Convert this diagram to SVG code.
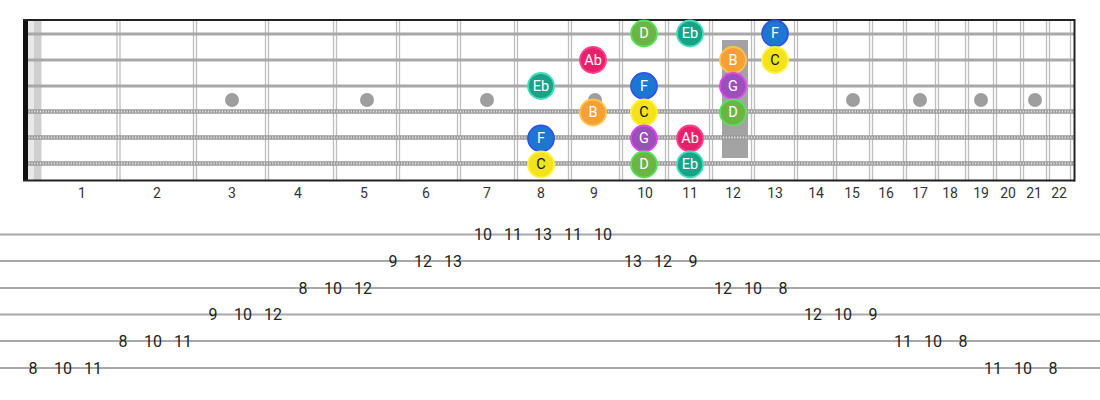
<svg xmlns="http://www.w3.org/2000/svg" width="1100" height="400" viewBox="0 0 1100 400">
<style>
.fret{stroke:#bdbdbd;stroke-width:1.3}
.plain{stroke:#a8a8a8;stroke-width:3}
.wbase{stroke:#9a9a9a;stroke-width:4.5}
.wtex{stroke:#e6e6e6;stroke-width:2;stroke-dasharray:1.2 1.6}
.dot{fill:#9e9e9e}
.fn{font-family:Roboto,"Liberation Sans",sans-serif;font-size:14px;fill:#333;text-anchor:middle}
.tabl{stroke:#a8a8a8;stroke-width:2}
.tn{font-family:Roboto,"Liberation Sans",sans-serif;font-size:16px;fill:#222;text-anchor:middle;dominant-baseline:central}
.nt{font-family:Roboto,"Liberation Sans",sans-serif;font-size:14.5px;fill:#fff;text-anchor:middle;dominant-baseline:central}
.nk{fill:#111}
.D{fill:#6cb444;stroke:#55e35a;stroke-width:1.8}
.Eb{fill:#19a386;stroke:#45dcbc;stroke-width:1.8}
.F{fill:#1c77d3;stroke:#2f54e6;stroke-width:1.8}
.C{fill:#f3e21c;stroke:#fff23a;stroke-width:1.8}
.Ab{fill:#e8206a;stroke:#ff3f8e;stroke-width:1.8}
.B{fill:#f5a033;stroke:#ffc24f;stroke-width:1.8}
.G{fill:#9b4fb9;stroke:#e044f5;stroke-width:1.8}
</style>
<g id="fretboard">
<rect x="23" y="19" width="1052" height="162" fill="#fff"/>
<rect x="28" y="20" width="14" height="160" fill="#e8e8e8"/>
<rect x="34" y="20" width="7" height="160" fill="#cfcfcf"/>
<g id="frets">
<line class="fret" x1="117" y1="20" x2="117" y2="180"/><line class="fret" x1="120" y1="20" x2="120" y2="180"/>
<line class="fret" x1="193.5" y1="20" x2="193.5" y2="180"/><line class="fret" x1="196.5" y1="20" x2="196.5" y2="180"/>
<line class="fret" x1="265.5" y1="20" x2="265.5" y2="180"/><line class="fret" x1="268.5" y1="20" x2="268.5" y2="180"/>
<line class="fret" x1="333.5" y1="20" x2="333.5" y2="180"/><line class="fret" x1="336.5" y1="20" x2="336.5" y2="180"/>
<line class="fret" x1="396.5" y1="20" x2="396.5" y2="180"/><line class="fret" x1="399.5" y1="20" x2="399.5" y2="180"/>
<line class="fret" x1="457.5" y1="20" x2="457.5" y2="180"/><line class="fret" x1="460.5" y1="20" x2="460.5" y2="180"/>
<line class="fret" x1="514.5" y1="20" x2="514.5" y2="180"/><line class="fret" x1="517.5" y1="20" x2="517.5" y2="180"/>
<line class="fret" x1="568.5" y1="20" x2="568.5" y2="180"/><line class="fret" x1="571.5" y1="20" x2="571.5" y2="180"/>
<line class="fret" x1="619.5" y1="20" x2="619.5" y2="180"/><line class="fret" x1="622.5" y1="20" x2="622.5" y2="180"/>
<line class="fret" x1="665.5" y1="20" x2="665.5" y2="180"/><line class="fret" x1="668.5" y1="20" x2="668.5" y2="180"/>
<line class="fret" x1="709.5" y1="20" x2="709.5" y2="180"/><line class="fret" x1="712.5" y1="20" x2="712.5" y2="180"/>
<line class="fret" x1="751.5" y1="20" x2="751.5" y2="180"/><line class="fret" x1="754.5" y1="20" x2="754.5" y2="180"/>
<line class="fret" x1="794.5" y1="20" x2="794.5" y2="180"/><line class="fret" x1="797.5" y1="20" x2="797.5" y2="180"/>
<line class="fret" x1="833.5" y1="20" x2="833.5" y2="180"/><line class="fret" x1="836.5" y1="20" x2="836.5" y2="180"/>
<line class="fret" x1="869.5" y1="20" x2="869.5" y2="180"/><line class="fret" x1="872.5" y1="20" x2="872.5" y2="180"/>
<line class="fret" x1="903.5" y1="20" x2="903.5" y2="180"/><line class="fret" x1="906.5" y1="20" x2="906.5" y2="180"/>
<line class="fret" x1="935.5" y1="20" x2="935.5" y2="180"/><line class="fret" x1="938.5" y1="20" x2="938.5" y2="180"/>
<line class="fret" x1="965.5" y1="20" x2="965.5" y2="180"/><line class="fret" x1="968.5" y1="20" x2="968.5" y2="180"/>
<line class="fret" x1="993.5" y1="20" x2="993.5" y2="180"/><line class="fret" x1="996.5" y1="20" x2="996.5" y2="180"/>
<line class="fret" x1="1020.5" y1="20" x2="1020.5" y2="180"/><line class="fret" x1="1023.5" y1="20" x2="1023.5" y2="180"/>
<line class="fret" x1="1046.5" y1="20" x2="1046.5" y2="180"/><line class="fret" x1="1049.5" y1="20" x2="1049.5" y2="180"/>
<line class="fret" x1="1070.5" y1="20" x2="1070.5" y2="180"/>
</g>
<g id="markers">
<circle class="dot" cx="232" cy="100" r="7"/>
<circle class="dot" cx="367" cy="100" r="7"/>
<circle class="dot" cx="487" cy="100" r="7"/>
<circle class="dot" cx="595" cy="100" r="7"/>
<circle class="dot" cx="853" cy="100" r="7"/>
<circle class="dot" cx="920" cy="100" r="7"/>
<circle class="dot" cx="981" cy="100" r="7"/>
<circle class="dot" cx="1035" cy="100" r="7"/>
<rect x="722" y="40" width="26" height="118" fill="#a3a3a3"/>
</g>
<g id="strings">
<line class="plain" x1="23" y1="34" x2="1075" y2="34"/>
<line class="plain" x1="23" y1="60" x2="1075" y2="60"/>
<line class="plain" x1="23" y1="86" x2="1075" y2="86"/>
<line class="wbase" x1="23" y1="111.5" x2="1075" y2="111.5"/>
<line class="wtex" x1="23" y1="111.5" x2="1075" y2="111.5"/>
<line class="wbase" x1="23" y1="137.5" x2="1075" y2="137.5"/>
<line class="wtex" x1="23" y1="137.5" x2="1075" y2="137.5"/>
<line class="wbase" x1="23" y1="163.5" x2="1075" y2="163.5"/>
<line class="wtex" x1="23" y1="163.5" x2="1075" y2="163.5"/>
</g>
<g id="border">
<rect x="23" y="20" width="5" height="160" fill="#111"/>
<line x1="23" y1="20" x2="1075" y2="20" stroke="#222" stroke-width="2"/>
<line x1="23" y1="180.5" x2="1075" y2="180.5" stroke="#222" stroke-width="2"/>
<line x1="1074.5" y1="19" x2="1074.5" y2="181.5" stroke="#222" stroke-width="2"/>
</g>
<g id="fret-numbers">
<text class="fn" x="82" y="198">1</text>
<text class="fn" x="157" y="198">2</text>
<text class="fn" x="232" y="198">3</text>
<text class="fn" x="298" y="198">4</text>
<text class="fn" x="364" y="198">5</text>
<text class="fn" x="426" y="198">6</text>
<text class="fn" x="487" y="198">7</text>
<text class="fn" x="541" y="198">8</text>
<text class="fn" x="594" y="198">9</text>
<text class="fn" x="645" y="198">10</text>
<text class="fn" x="690" y="198">11</text>
<text class="fn" x="733" y="198">12</text>
<text class="fn" x="775" y="198">13</text>
<text class="fn" x="816" y="198">14</text>
<text class="fn" x="852" y="198">15</text>
<text class="fn" x="886" y="198">16</text>
<text class="fn" x="920" y="198">17</text>
<text class="fn" x="950" y="198">18</text>
<text class="fn" x="981" y="198">19</text>
<text class="fn" x="1008" y="198">20</text>
<text class="fn" x="1034" y="198">21</text>
<text class="fn" x="1059" y="198">22</text>
</g>
</g>
<g id="notes">
<g id="n1"><circle class="D" cx="644" cy="33.5" r="13"/><text class="nt" x="644" y="33.5">D</text></g>
<g id="n2"><circle class="Eb" cx="690" cy="33.5" r="13"/><text class="nt" x="690" y="33.5">Eb</text></g>
<g id="n3"><circle class="F" cx="775" cy="33.5" r="13"/><text class="nt" x="775" y="33.5">F</text></g>
<g id="n4"><circle class="Ab" cx="593" cy="60" r="13"/><text class="nt" x="593" y="60">Ab</text></g>
<g id="n5"><circle class="B" cx="733" cy="60" r="13"/><text class="nt" x="733" y="60">B</text></g>
<g id="n6"><circle class="C" cx="775" cy="60" r="13"/><text class="nt nk" x="775" y="60">C</text></g>
<g id="n7"><circle class="Eb" cx="541" cy="86" r="13"/><text class="nt" x="541" y="86">Eb</text></g>
<g id="n8"><circle class="F" cx="644" cy="86" r="13"/><text class="nt" x="644" y="86">F</text></g>
<g id="n9"><circle class="G" cx="733" cy="86" r="13"/><text class="nt" x="733" y="86">G</text></g>
<g id="n10"><circle class="B" cx="593" cy="112.5" r="13"/><text class="nt" x="593" y="112.5">B</text></g>
<g id="n11"><circle class="C" cx="644" cy="112.5" r="13"/><text class="nt nk" x="644" y="112.5">C</text></g>
<g id="n12"><circle class="D" cx="733" cy="112.5" r="13"/><text class="nt" x="733" y="112.5">D</text></g>
<g id="n13"><circle class="F" cx="541" cy="138.5" r="13"/><text class="nt" x="541" y="138.5">F</text></g>
<g id="n14"><circle class="G" cx="644" cy="138.5" r="13"/><text class="nt" x="644" y="138.5">G</text></g>
<g id="n15"><circle class="Ab" cx="690" cy="138.5" r="13"/><text class="nt" x="690" y="138.5">Ab</text></g>
<g id="n16"><circle class="C" cx="541" cy="164.5" r="13"/><text class="nt nk" x="541" y="164.5">C</text></g>
<g id="n17"><circle class="D" cx="644" cy="164.5" r="13"/><text class="nt" x="644" y="164.5">D</text></g>
<g id="n18"><circle class="Eb" cx="690" cy="164.5" r="13"/><text class="nt" x="690" y="164.5">Eb</text></g>
</g>
<g id="tab">
<line class="tabl" x1="0" y1="234.5" x2="1100" y2="234.5"/>
<line class="tabl" x1="0" y1="261" x2="1100" y2="261"/>
<line class="tabl" x1="0" y1="288" x2="1100" y2="288"/>
<line class="tabl" x1="0" y1="314.5" x2="1100" y2="314.5"/>
<line class="tabl" x1="0" y1="341" x2="1100" y2="341"/>
<line class="tabl" x1="0" y1="368" x2="1100" y2="368"/>
<text class="tn" x="33" y="368">8</text><text class="tn" x="63" y="368">10</text><text class="tn" x="93" y="368">11</text>
<text class="tn" x="123" y="341">8</text><text class="tn" x="153" y="341">10</text><text class="tn" x="183" y="341">11</text>
<text class="tn" x="213" y="314.5">9</text><text class="tn" x="243" y="314.5">10</text><text class="tn" x="273" y="314.5">12</text>
<text class="tn" x="303" y="288">8</text><text class="tn" x="333" y="288">10</text><text class="tn" x="363" y="288">12</text>
<text class="tn" x="393" y="261">9</text><text class="tn" x="423" y="261">12</text><text class="tn" x="453" y="261">13</text>
<text class="tn" x="483" y="234.5">10</text><text class="tn" x="513" y="234.5">11</text><text class="tn" x="543" y="234.5">13</text><text class="tn" x="573" y="234.5">11</text><text class="tn" x="603" y="234.5">10</text>
<text class="tn" x="633" y="261">13</text><text class="tn" x="663" y="261">12</text><text class="tn" x="693" y="261">9</text>
<text class="tn" x="723" y="288">12</text><text class="tn" x="753" y="288">10</text><text class="tn" x="783" y="288">8</text>
<text class="tn" x="813" y="314.5">12</text><text class="tn" x="843" y="314.5">10</text><text class="tn" x="873" y="314.5">9</text>
<text class="tn" x="903" y="341">11</text><text class="tn" x="933" y="341">10</text><text class="tn" x="963" y="341">8</text>
<text class="tn" x="993" y="368">11</text><text class="tn" x="1023" y="368">10</text><text class="tn" x="1053" y="368">8</text>
</g>
</svg>
